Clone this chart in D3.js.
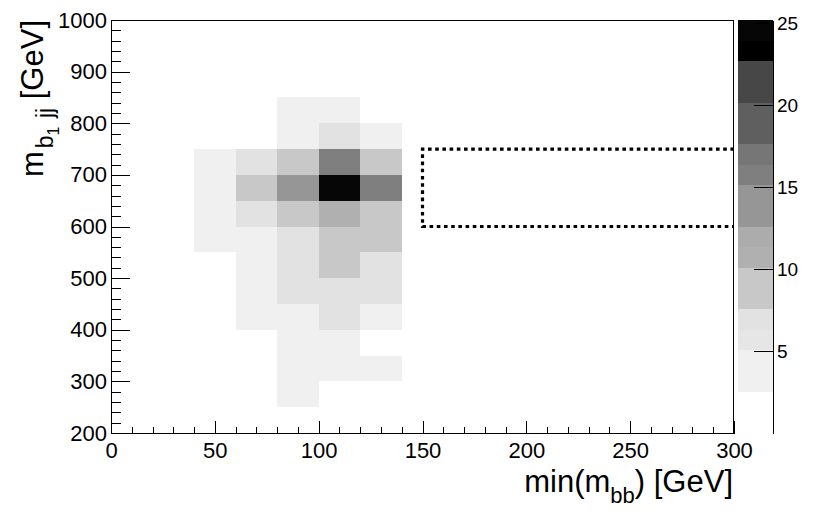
<!DOCTYPE html>
<html>
<head>
<meta charset="utf-8">
<script src="https://cdn.jsdelivr.net/npm/d3@7"></script>
<style>
    body { margin: 0; background: #fff; }
    svg { display: block; font-family: "Liberation Sans", Arial, sans-serif; }
    .axis text { font-size: 22px; fill: #000; }
    .axis path, .axis line { stroke: #000; shape-rendering: crispEdges; }
</style>
</head>
<body>
<svg id="chart" width="830" height="519"></svg>
<script>
// Bin layout
const xBinLows = [40, 60, 80, 100, 120];
const xBinWidth = 20;
const yBinLows = [800, 750, 700, 650, 600, 550, 500, 450, 400, 350, 300, 250];
const yBinWidth = 50;

// Counts, one row per y bin (top to bottom), one column per x bin
const counts = [
    [0, 0, 3, 3, 0],
    [0, 0, 3, 7, 3],
    [3, 7, 9, 16, 9],
    [3, 9, 14, 25.2, 16],
    [3, 7, 9, 11, 9],
    [3, 3, 7, 9, 9],
    [0, 3, 7, 9, 7],
    [0, 3, 7, 7, 7],
    [0, 3, 3, 7, 3],
    [0, 0, 3, 3, 0],
    [0, 0, 3, 3, 3],
    [0, 0, 3, 0, 0]
];

// Colour palette (20 contour levels, low to high)
const zMax = 25.2;
const paletteColors = [
    '#ffffff', '#ffffff', '#f0f0f0', '#f0f0f0', '#e6e6e6',
    '#e2e2e2', '#c8c8c8', '#c8c8c8', '#b0b0b0', '#acacac',
    '#969696', '#969696', '#7f7f7f', '#767676', '#5f5f5f',
    '#5f5f5f', '#474747', '#474747', '#000000', '#060606'
];
const zTicks = [5, 10, 15, 20, 25];

// Signal box
const boxX = [150, 300];
const boxY = [600, 750];

const svg = d3.select('#chart');
const margin = { left: 111, right: 734, top: 20, bottom: 433 };

const x = d3.scaleLinear().domain([0, 300]).range([margin.left, margin.right]);
const y = d3.scaleLinear().domain([200, 1000]).range([margin.bottom, margin.top]);
const z = d3.scaleLinear().domain([0, zMax]).range([margin.bottom, margin.top]);

function colorFor(v) {
    let idx = Math.floor(v / zMax * paletteColors.length);
    idx = Math.max(0, Math.min(paletteColors.length - 1, idx));
    return paletteColors[idx];
}

// Cells
const cells = [];
counts.forEach((row, i) => {
    row.forEach((v, j) => {
        if (v > 0) cells.push({ x0: xBinLows[j], y0: yBinLows[i], v: v });
    });
});

svg.append('g')
    .selectAll('rect')
    .data(cells)
    .enter()
    .append('rect')
    .attr('x', d => x(d.x0))
    .attr('y', d => y(d.y0 + yBinWidth))
    .attr('width', d => x(d.x0 + xBinWidth) - x(d.x0))
    .attr('height', d => y(d.y0) - y(d.y0 + yBinWidth))
    .attr('fill', d => colorFor(d.v))
    .attr('shape-rendering', 'crispEdges');

// Dotted box (right side sits on the frame)
const boxPath = d3.path();
boxPath.moveTo(x(boxX[1]), y(boxY[1]));
boxPath.lineTo(x(boxX[0]), y(boxY[1]));
boxPath.lineTo(x(boxX[0]), y(boxY[0]));
boxPath.lineTo(x(boxX[1]), y(boxY[0]));
svg.append('path')
    .attr('d', boxPath.toString())
    .attr('fill', 'none')
    .attr('stroke', '#000')
    .attr('stroke-width', 3.2)
    .attr('stroke-dasharray', '3.6,3.6');

// Frame
svg.append('rect')
    .attr('x', margin.left + 0.5)
    .attr('y', margin.top + 0.5)
    .attr('width', margin.right - margin.left - 1)
    .attr('height', margin.bottom - margin.top)
    .attr('fill', 'none')
    .attr('stroke', '#000')
    .attr('stroke-width', 1);

// X axis: major + minor
svg.append('g')
    .attr('class', 'axis')
    .attr('transform', `translate(0,${margin.bottom})`)
    .call(d3.axisBottom(x).tickValues(d3.range(0, 301, 10)).tickSizeInner(-6).tickSizeOuter(0).tickFormat(''));
svg.append('g')
    .attr('class', 'axis')
    .attr('transform', `translate(0,${margin.bottom})`)
    .call(d3.axisBottom(x).tickValues(d3.range(0, 301, 50)).tickSizeInner(-12).tickSizeOuter(0).tickPadding(9).tickFormat(d3.format('d')))
    .call(g => g.selectAll('text').attr('dy', '0.72em'));

// Y axis: major + minor
svg.append('g')
    .attr('class', 'axis')
    .attr('transform', `translate(${margin.left},0)`)
    .call(d3.axisLeft(y).tickValues(d3.range(200, 1001, 20)).tickSizeInner(-10).tickSizeOuter(0).tickFormat(''));
svg.append('g')
    .attr('class', 'axis')
    .attr('transform', `translate(${margin.left},0)`)
    .call(d3.axisLeft(y).tickValues(d3.range(200, 1001, 100)).tickSizeInner(-19).tickSizeOuter(0).tickPadding(4).tickFormat(d3.format('d')));

// Colour bar
const barLeft = 738, barRight = 773;
const bandStep = zMax / paletteColors.length;
svg.append('g')
    .selectAll('rect')
    .data(paletteColors)
    .enter()
    .append('rect')
    .attr('x', barLeft)
    .attr('y', (c, i) => z((i + 1) * bandStep))
    .attr('width', barRight - barLeft)
    .attr('height', (c, i) => z(i * bandStep) - z((i + 1) * bandStep))
    .attr('fill', c => c)
    .attr('shape-rendering', 'crispEdges');

svg.append('g')
    .attr('class', 'axis')
    .attr('transform', `translate(${barRight},0)`)
    .call(d3.axisRight(z).tickValues(zTicks).tickSizeInner(-19).tickSizeOuter(0).tickPadding(4))
    .call(g => g.selectAll('text').style('font-size', '19px'));

// Axis titles
const xTitle = svg.append('text')
    .attr('x', 733)
    .attr('y', 492)
    .attr('text-anchor', 'end')
    .style('font-size', '31px');
xTitle.append('tspan').text('min(m');
xTitle.append('tspan').attr('dy', 11).style('font-size', '22px').text('bb');
xTitle.append('tspan').attr('dy', -11).text(') [GeV]');

const yTitle = svg.append('text')
    .attr('transform', 'translate(43,20) rotate(-90)')
    .attr('text-anchor', 'end')
    .style('font-size', '31px');
yTitle.append('tspan').text('m');
yTitle.append('tspan').attr('dx', 3).attr('dy', 10).style('font-size', '23px').text('b');
yTitle.append('tspan').attr('dy', 6).style('font-size', '16px').text('1');
yTitle.append('tspan').attr('dx', 2).attr('dy', -6).style('font-size', '23px').text(' jj');
yTitle.append('tspan').attr('dy', -10).text(' [GeV]');
</script>
</body>
</html>
